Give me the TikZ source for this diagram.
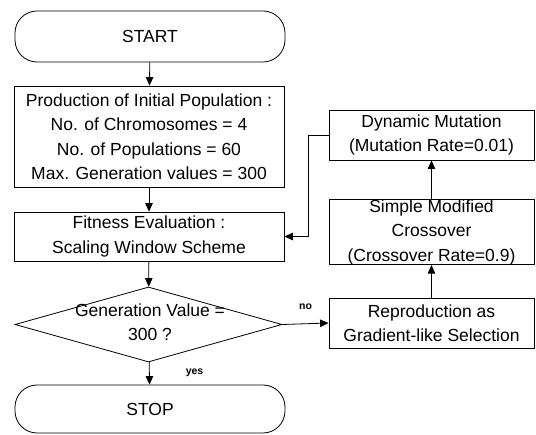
\documentclass[tikz,border=0pt]{standalone}
\usepackage{fontspec}
\setmainfont{Liberation Sans}
\usetikzlibrary{shapes.geometric,arrows.meta}
\tikzset{
  txt/.style={font=\fontsize{17.5}{24.5}\selectfont, align=center, inner sep=0pt},
  procbox/.style={draw, line width=0.8pt, txt},
  termbox/.style={procbox, rounded corners=22pt},
  decision/.style={draw, line width=0.8pt, diamond, inner sep=0pt},
  flow/.style={draw, line width=0.8pt, -{Triangle[length=8.5pt,width=7.5pt]}},
  small/.style={font=\bfseries\fontsize{10.5}{12}\selectfont, inner sep=0pt}
}
\begin{document}
\begin{tikzpicture}[x=1pt,y=-1pt]
\useasboundingbox (0,0) rectangle (536,435);
% left column
\node[termbox, minimum width=270pt, minimum height=51pt] (start) at (150,36.5) {START};
\node[procbox, minimum width=270pt, minimum height=101pt] (init) at (149,136.5)
  {Production of Initial Population :\\No. of Chromosomes = 4\\No. of Populations = 60\\Max. Generation values = 300};
\node[procbox, minimum width=270pt, minimum height=49pt] (fit) at (149,236.5)
  {Fitness Evaluation :\\Scaling Window Scheme};
\node[decision, minimum width=267pt, minimum height=75pt] (dec) at (148.5,324.5) {};
\node[txt] (dectxt) at (150,322) {Generation Value =\\300 ?};
\node[termbox, minimum width=270pt, minimum height=48pt] (stop) at (150,409) {STOP};
% right column
\node[procbox, minimum width=205pt, minimum height=50pt] (mut) at (431.5,135)
  {Dynamic Mutation\\(Mutation Rate=0.01)};
\node[procbox, minimum width=205pt, minimum height=64pt] (cross) at (431.5,232)
  {Simple Modified\\Crossover\\(Crossover Rate=0.9)};
\node[procbox, minimum width=205pt, minimum height=50pt] (rep) at (431.5,323)
  {Reproduction as\\Gradient-like Selection};
% connectors
\draw[flow] (start) -- (init);
\draw[flow] (init) -- (fit);
\draw[flow] (fit) -- (dec);
\draw[flow] (dec) -- (stop) node[small, pos=0.45, right=36pt] (yes) {yes};
\draw[flow] (dec.east) -- (rep.west) node[small, pos=0.5, above=14pt] (no) {no};
\draw[flow] (rep) -- (cross);
\draw[flow] (cross) -- (mut);
\draw[flow] (mut.west) -- ++(-20,0) |- (fit.east);
\end{tikzpicture}
\end{document}
